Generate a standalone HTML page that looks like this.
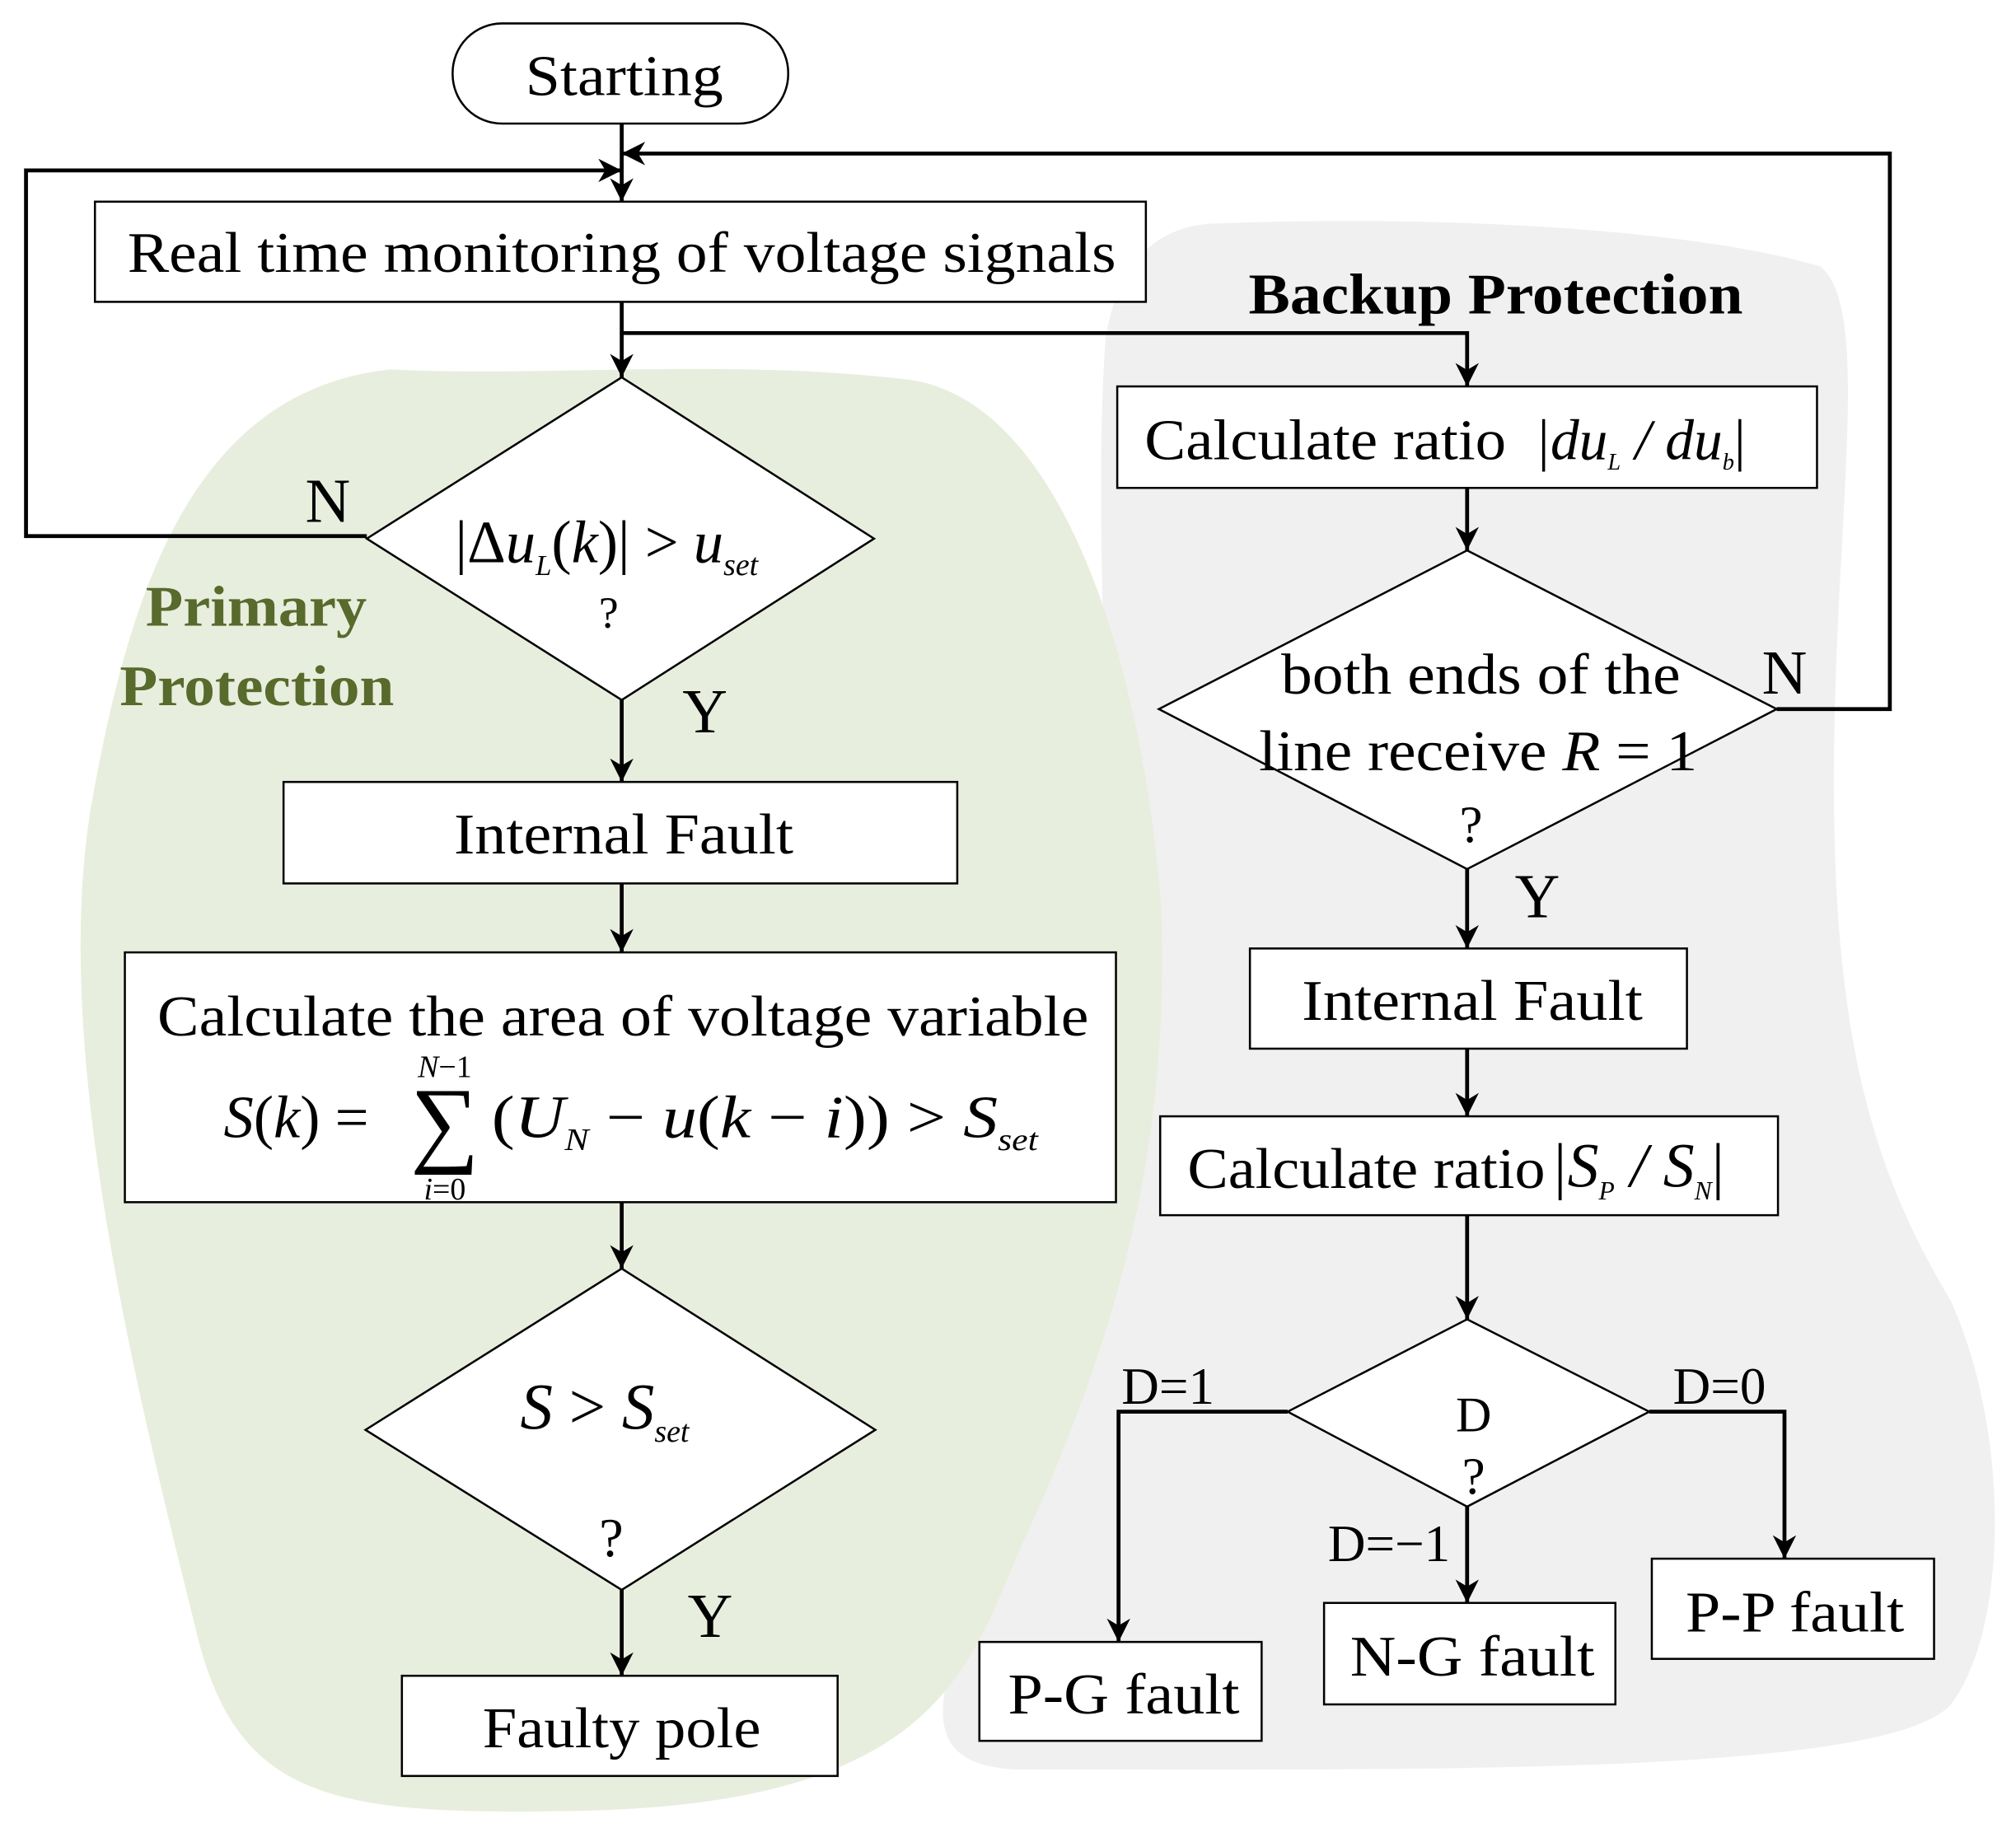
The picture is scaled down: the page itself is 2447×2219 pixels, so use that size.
<!DOCTYPE html>
<html><head><meta charset="utf-8"><style>
html,body{margin:0;padding:0;background:#fff}
svg{display:block}
text{font-family:"Liberation Serif",serif}
</style></head><body>
<svg width="2447" height="2219" viewBox="0 0 1550 1405" preserveAspectRatio="none" xmlns="http://www.w3.org/2000/svg">
<defs>
<marker id="a" viewBox="0 0 10 10" refX="10" refY="5" markerWidth="6" markerHeight="6" orient="auto" markerUnits="strokeWidth"><path d="M0,0 L10,5 L0,10 L3,5 z" fill="#000"/></marker>
</defs>
<path d="M930,172 C1100,165 1300,175 1400,205 C1440,240 1410,400 1410,600 C1410,800 1440,900 1500,1000 C1545,1100 1545,1250 1500,1310 C1450,1365 1100,1360 780,1360 C700,1355 720,1300 760,1200 C820,1080 855,950 855,800 C855,600 840,400 850,260 C860,200 890,175 930,172 Z" fill="#f0f0f0"/>
<path d="M300,284 C420,290 560,275 700,292 C820,310 880,520 893,700 C900,900 850,1050 780,1200 C740,1300 700,1390 430,1392 C250,1395 180,1380 150,1250 C100,1050 40,800 70,620 C100,450 150,300 300,284 Z" fill="#e8eedd"/>
<g fill="#fff" stroke="#000" stroke-width="1.6">
<rect x="348" y="18" width="258" height="77" rx="38"/>
<rect x="73" y="155" width="808" height="77"/>
<polygon points="478,290 672,414 478,538 282,414"/>
<rect x="218" y="601" width="518" height="78"/>
<rect x="96" y="732" width="762" height="192"/>
<polygon points="478,975 673,1099 478,1222 281,1099"/>
<rect x="309" y="1288" width="335" height="77"/>
<rect x="859" y="297" width="538" height="78"/>
<polygon points="1128,423 1366,545 1128,668 891,545"/>
<rect x="961" y="729" width="336" height="77"/>
<rect x="892" y="858" width="475" height="76"/>
<polygon points="1128,1014 1268,1085 1128,1158 990,1085"/>
<rect x="753" y="1262" width="217" height="76"/>
<rect x="1018" y="1232" width="224" height="78"/>
<rect x="1270" y="1198" width="217" height="77"/>
</g>
<g fill="none" stroke="#000" stroke-width="3">
<path d="M478,95 V155" marker-end="url(#a)"/>
<path d="M282,412 H20 V131 H478" marker-end="url(#a)"/>
<path d="M1366,545 H1453 V118 H478" marker-end="url(#a)"/>
<path d="M478,232 V290" marker-end="url(#a)"/>
<path d="M478,256 H1128 V297" marker-end="url(#a)"/>
<path d="M478,538 V601" marker-end="url(#a)"/>
<path d="M478,679 V732" marker-end="url(#a)"/>
<path d="M478,924 V975" marker-end="url(#a)"/>
<path d="M478,1222 V1288" marker-end="url(#a)"/>
<path d="M1128,375 V423" marker-end="url(#a)"/>
<path d="M1128,668 V729" marker-end="url(#a)"/>
<path d="M1128,806 V858" marker-end="url(#a)"/>
<path d="M1128,934 V1014" marker-end="url(#a)"/>
<path d="M990,1085 H860 V1262" marker-end="url(#a)"/>
<path d="M1268,1085 H1372 V1198" marker-end="url(#a)"/>
<path d="M1128,1158 V1232" marker-end="url(#a)"/>
</g>
<g font-size="44" fill="#000" lengthAdjust="spacingAndGlyphs">
<text x="404" y="73" textLength="152" lengthAdjust="spacingAndGlyphs">Starting</text>
<text x="98" y="209" textLength="760" lengthAdjust="spacingAndGlyphs">Real time monitoring of voltage signals</text>
<text x="349" y="656" textLength="261" lengthAdjust="spacingAndGlyphs">Internal Fault</text>
<text x="121" y="796" textLength="716" lengthAdjust="spacingAndGlyphs">Calculate the area of voltage variable</text>
<text x="371" y="1343" textLength="214" lengthAdjust="spacingAndGlyphs">Faulty pole</text>
<text x="1001" y="784" textLength="262" lengthAdjust="spacingAndGlyphs">Internal Fault</text>
<text x="985" y="533" textLength="307" lengthAdjust="spacingAndGlyphs">both ends of the</text>
<text x="968" y="592" textLength="337" lengthAdjust="spacingAndGlyphs">line receive <tspan font-style="italic">R</tspan> = 1</text>
<text x="775" y="1317" textLength="178" lengthAdjust="spacingAndGlyphs">P-G fault</text>
<text x="1038" y="1288" textLength="188" lengthAdjust="spacingAndGlyphs">N-G fault</text>
<text x="1296" y="1254" textLength="168" lengthAdjust="spacingAndGlyphs">P-P fault</text>
<text x="880" y="353" textLength="278" lengthAdjust="spacingAndGlyphs">Calculate ratio</text>
<text x="913" y="913" textLength="275" lengthAdjust="spacingAndGlyphs">Calculate ratio</text>
</g>
<text x="1131" y="647" font-size="40" text-anchor="middle">?</text>
<text x="1180" y="353" font-size="44" font-style="italic">|du<tspan font-size="18" dy="8">L</tspan><tspan dy="-8"> / du</tspan><tspan font-size="18" dy="8">b</tspan><tspan dy="-8" font-style="normal">|</tspan></text>
<text x="1192" y="912" font-size="48" font-style="italic">|S<tspan font-size="20" dy="10">P</tspan><tspan dy="-10"> / S</tspan><tspan font-size="20" dy="10">N</tspan><tspan dy="-10" font-style="normal">|</tspan></text>
<text x="350" y="432" font-size="46"><tspan>|Δ</tspan><tspan font-style="italic">u</tspan><tspan font-size="22" font-style="italic" dy="10">L</tspan><tspan dy="-10">(</tspan><tspan font-style="italic">k</tspan><tspan>)| &gt; </tspan><tspan font-style="italic">u</tspan><tspan font-size="24" font-style="italic" dy="10">set</tspan></text>
<text x="468" y="482" font-size="34" text-anchor="middle">?</text>
<text x="172" y="874" font-size="46"><tspan font-style="italic">S</tspan>(<tspan font-style="italic">k</tspan>) = </text>
<text x="342" y="887" font-size="74" text-anchor="middle">∑</text>
<text x="342" y="828" font-size="24" text-anchor="middle" font-style="italic">N<tspan font-style="normal">−1</tspan></text>
<text x="342" y="922" font-size="24" text-anchor="middle"><tspan font-style="italic">i</tspan>=0</text>
<text x="378" y="874" font-size="46" textLength="420" lengthAdjust="spacingAndGlyphs">(<tspan font-style="italic">U</tspan><tspan font-size="24" font-style="italic" dy="10">N</tspan><tspan dy="-10"> − </tspan><tspan font-style="italic">u</tspan>(<tspan font-style="italic">k</tspan> − <tspan font-style="italic">i</tspan>)) &gt; <tspan font-style="italic">S</tspan><tspan font-size="24" font-style="italic" dy="10">set</tspan></text>
<text x="400" y="1098" font-size="50"><tspan font-style="italic">S</tspan> &gt; <tspan font-style="italic">S</tspan><tspan font-size="24" font-style="italic" dy="10">set</tspan></text>
<text x="470" y="1196" font-size="42" text-anchor="middle">?</text>
<text x="1133" y="1100" font-size="38" text-anchor="middle">D</text>
<text x="1133" y="1148" font-size="40" text-anchor="middle">?</text>
<g font-size="48" text-anchor="middle">
<text x="252" y="401">N</text>
<text x="542" y="563">Y</text>
<text x="546" y="1258">Y</text>
<text x="1372" y="533">N</text>
<text x="1182" y="705">Y</text>
</g>
<g font-size="40" text-anchor="middle">
<text x="898" y="1079">D=1</text>
<text x="1322" y="1079">D=0</text>
<text x="1068" y="1200">D=−1</text>
</g>
<g font-size="44" font-weight="bold">
<text x="112" y="481" textLength="170" lengthAdjust="spacingAndGlyphs" style="fill:#586a2c">Primary</text>
<text x="92" y="542" textLength="211" lengthAdjust="spacingAndGlyphs" style="fill:#586a2c">Protection</text>
<text x="960" y="241" textLength="380" lengthAdjust="spacingAndGlyphs">Backup Protection</text>
</g>
</svg>
</body></html>
